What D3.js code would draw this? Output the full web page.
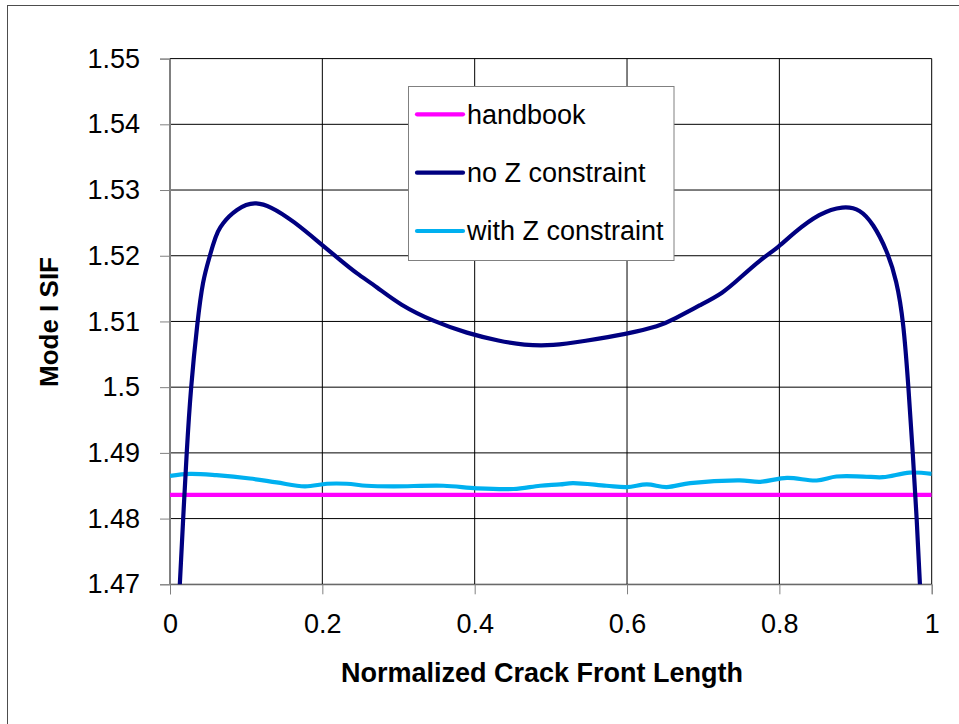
<!DOCTYPE html>
<html>
<head>
<meta charset="utf-8">
<script src="https://cdn.jsdelivr.net/npm/d3@7"></script>
<style>
  body { margin: 0; background: #fff; }
  svg text { font-family: "Liberation Sans", Arial, sans-serif; }
</style>
</head>
<body>
<div id="chart"></div>
<script>
  'use strict';

  // series values
  var seriesNames = ["handbook", "no Z constraint", "with Z constraint"];
  var seriesColors = ["#ff00ff", "#000080", "#00b0f0"];

  var handbookX = [0, 1];
  var handbookY = [1.4836, 1.4836];

  var noZX = [0, 0.0128, 0.0173, 0.0218, 0.0273, 0.036, 0.043, 0.0525, 0.0556, 0.063,
              0.07, 0.0775, 0.0876, 0.1, 0.112, 0.131, 0.162, 0.2, 0.223, 0.245,
              0.271, 0.302, 0.346, 0.39, 0.433, 0.464, 0.503, 0.543, 0.6, 0.643,
              0.661, 0.696, 0.726, 0.748, 0.775, 0.8, 0.818, 0.853, 0.884, 0.906,
              0.923, 0.941, 0.954, 0.963, 0.9695, 0.9752, 0.9803, 0.985, 1];
  var noZY = [1.44, 1.47, 1.48, 1.49, 1.50, 1.51, 1.5163, 1.52, 1.5214, 1.5239,
              1.5250, 1.5260, 1.5270, 1.5278, 1.5281, 1.5276, 1.5253, 1.5216, 1.5194, 1.5173,
              1.5153, 1.5125, 1.5100, 1.5082, 1.5070, 1.5064, 1.5063, 1.5070, 1.5081, 1.5093,
              1.5103, 1.5125, 1.5143, 1.5166, 1.5194, 1.5214, 1.5234, 1.5265, 1.5276, 1.5271,
              1.5249, 1.5209, 1.5163, 1.51, 1.50, 1.49, 1.48, 1.47, 1.43];

  var withZX = [0, 0.026, 0.061, 0.105, 0.14, 0.177, 0.206, 0.232, 0.258, 0.293,
                0.359, 0.403, 0.451, 0.486, 0.512, 0.529, 0.573, 0.6, 0.626, 0.652,
                0.683, 0.748, 0.775, 0.81, 0.849, 0.875, 0.91, 0.936, 0.971, 1];
  var withZY = [1.4865, 1.4868, 1.4866, 1.4861, 1.4855, 1.4849, 1.4853, 1.4853, 1.4850, 1.4849,
                1.4850, 1.4846, 1.4845, 1.4850, 1.4852, 1.4854, 1.4850, 1.4848, 1.4852, 1.4848,
                1.4854, 1.4858, 1.4856, 1.4862, 1.4858, 1.4864, 1.4864, 1.4863, 1.4870, 1.4868];

  var xTicks = [0, 0.2, 0.4, 0.6, 0.8, 1];
  var xTickLabels = ["0", "0.2", "0.4", "0.6", "0.8", "1"];
  var yTicks = [1.47, 1.48, 1.49, 1.50, 1.51, 1.52, 1.53, 1.54, 1.55];
  var yTickLabels = ["1.47", "1.48", "1.49", "1.5", "1.51", "1.52", "1.53", "1.54", "1.55"];

  var xTitle = "Normalized Crack Front Length";
  var yTitle = "Mode I SIF";

////////////////////////////////////////////////////////////////
// Layout
////////////////////////////////////////////////////////////////

  var width = 959,
      height = 724,
      plotLeft = 170,
      plotRight = 931.7,
      plotTop = 58.6,
      plotBottom = 584.3;

  var svg = d3.select("#chart")
              .append("svg")
              .attr("width", width)
              .attr("height", height);

  // outer chart border (runs off the right and bottom of the picture)
  svg.append("rect")
     .attr("x", 7.5)
     .attr("y", 5.5)
     .attr("width", 980)
     .attr("height", 760)
     .attr("fill", "#fff")
     .attr("stroke", "#4d4d4d")
     .attr("stroke-width", 1);

  var x = d3.scaleLinear().domain([0, 1]).range([plotLeft, plotRight]);
  var y = d3.scaleLinear().domain([1.47, 1.55]).range([plotBottom, plotTop]);

  // gridlines
  var grid = svg.append("g");
  grid.selectAll("line.h")
      .data(yTicks)
      .enter().append("line")
      .attr("x1", plotLeft)
      .attr("x2", plotRight)
      .attr("y1", function (d) { return y(d); })
      .attr("y2", function (d) { return y(d); })
      .attr("stroke", "#000")
      .attr("stroke-width", 1);
  grid.selectAll("line.v")
      .data(xTicks)
      .enter().append("line")
      .attr("y1", plotTop)
      .attr("y2", plotBottom)
      .attr("x1", function (d) { return x(d); })
      .attr("x2", function (d) { return x(d); })
      .attr("stroke", "#000")
      .attr("stroke-width", 1);

  // axes
  var yAxis = svg.append("g")
                 .attr("transform", "translate(" + plotLeft + ",0)")
                 .call(d3.axisLeft(y)
                         .tickValues(yTicks)
                         .tickSize(10)
                         .tickPadding(20)
                         .tickFormat(function (d, i) { return yTickLabels[i]; }));

  var xAxis = svg.append("g")
                 .attr("transform", "translate(0," + plotBottom + ")")
                 .call(d3.axisBottom(x)
                         .tickValues(xTicks)
                         .tickSize(10)
                         .tickPadding(19.5)
                         .tickFormat(function (d, i) { return xTickLabels[i]; }));

  [xAxis, yAxis].forEach(function (ax) {
    ax.select(".domain").attr("stroke", "#808080");
    ax.selectAll(".tick line").attr("stroke", "#808080");
    ax.selectAll(".tick text")
      .attr("fill", "#000")
      .style("font-size", "27px")
      .style("font-family", "'Liberation Sans', Arial, sans-serif");
  });

  // series lines, clipped to the plot area like the original
  svg.append("clipPath")
     .attr("id", "plotClip")
     .append("rect")
     .attr("x", plotLeft)
     .attr("y", plotTop)
     .attr("width", plotRight - plotLeft)
     .attr("height", plotBottom - plotTop);

  // the steep curve gets a B-spline, the wiggly one keeps its bumps
  var curves = [d3.curveLinear, d3.curveBasis, d3.curveCatmullRom.alpha(0.5)];

  var seriesData = [d3.zip(handbookX, handbookY),
                    d3.zip(noZX, noZY),
                    d3.zip(withZX, withZY)];
  var drawOrder = [0, 2, 1];

  var lines = svg.append("g").attr("clip-path", "url(#plotClip)");
  drawOrder.forEach(function (i) {
    var line = d3.line()
                 .x(function (d) { return x(d[0]); })
                 .y(function (d) { return y(d[1]); })
                 .curve(curves[i]);
    lines.append("path")
         .datum(seriesData[i])
         .attr("d", line)
         .attr("fill", "none")
         .attr("stroke", seriesColors[i])
         .attr("stroke-width", 4.2)
         .attr("stroke-linejoin", "round");
  });

  // legend
  var legend = svg.append("g");
  legend.append("rect")
        .attr("x", 408.5)
        .attr("y", 86.5)
        .attr("width", 265.5)
        .attr("height", 174)
        .attr("fill", "#fff")
        .attr("stroke", "#808080")
        .attr("stroke-width", 1);

  var legendRows = [114.3, 172.7, 231];
  seriesNames.forEach(function (name, i) {
    legend.append("line")
          .attr("x1", 417)
          .attr("x2", 463)
          .attr("y1", legendRows[i])
          .attr("y2", legendRows[i])
          .attr("stroke", seriesColors[i])
          .attr("stroke-width", 4.2)
          .attr("stroke-linecap", "round");
    legend.append("text")
          .attr("x", 467)
          .attr("y", legendRows[i])
          .attr("dy", "0.35em")
          .style("font-size", "27px")
          .text(name);
  });

  // axis titles
  svg.append("text")
     .attr("x", 542)
     .attr("y", 682)
     .attr("text-anchor", "middle")
     .style("font-size", "27px")
     .style("font-weight", "bold")
     .text(xTitle);

  svg.append("text")
     .attr("transform", "translate(58,322) rotate(-90)")
     .attr("text-anchor", "middle")
     .style("font-size", "26px")
     .style("font-weight", "bold")
     .text(yTitle);
</script>
</body>
</html>
